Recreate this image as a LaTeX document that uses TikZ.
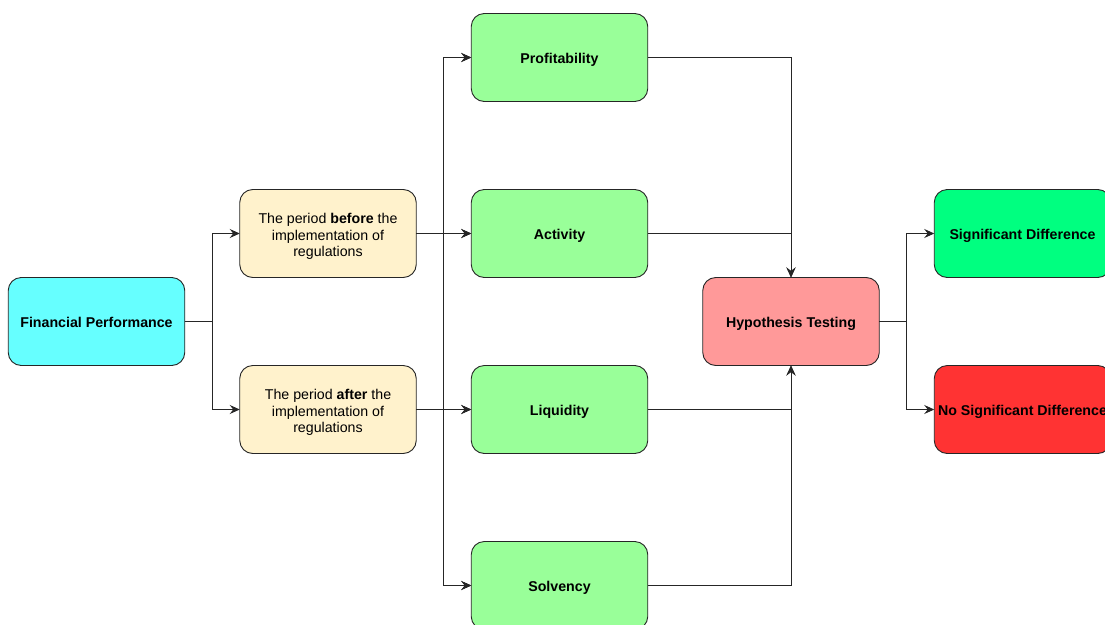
\documentclass[tikz,border=0pt]{standalone}
\usepackage{fontspec}
\setmainfont{Liberation Sans}
\usetikzlibrary{positioning, arrows.meta}

\definecolor{fpcyan}{HTML}{66FFFF}
\definecolor{periodfill}{HTML}{FFF2CC}
\definecolor{ratiogreen}{HTML}{99FF99}
\definecolor{testred}{HTML}{FF9999}
\definecolor{sigfill}{HTML}{00FF80}
\definecolor{nosigfill}{HTML}{FF3333}

\begin{document}
\begin{tikzpicture}[
    node distance=88pt and 55pt,
    box/.style={draw=black!85, line width=0.9pt, rounded corners=13pt, outer sep=0pt,
      minimum width=176.5pt, minimum height=88pt, inner sep=2pt, align=center,
      font=\fontsize{14.2}{16.8}\selectfont},
    oneline/.style={box, text height=12.2pt, text depth=0pt},
    arr/.style={-{Stealth[length=10pt,width=9pt,inset=3.5pt]}, color=black!85, line width=0.9pt},
    elbow/.style={to path={-- ++(#1,0) |- (\tikztotarget)}},
    elbow/.default=27.5pt,
    corner/.style={to path={-| (\tikztotarget)}}
  ]
\useasboundingbox (0,0) rectangle (1105pt,-624pt);

% nodos
\node [oneline, fill=fpcyan] (fp) at (96.5pt,-321.5pt) {\textbf{Financial Performance}};
\node [box, fill=periodfill] (before) [above right=0pt and 55pt of fp] {\mbox{}\\[-0.5pt]The period \textbf{before} the\\implementation of\\regulations};
\node [box, fill=periodfill] (after) [below=88pt of before] {\mbox{}\\[-0.5pt]The period \textbf{after} the\\implementation of\\regulations};
\node [oneline, fill=ratiogreen] (act) [right=55pt of before] {\textbf{Activity}};
\node [oneline, fill=ratiogreen] (prof) [above=88pt of act] {\textbf{Profitability}};
\node [oneline, fill=ratiogreen] (liq) [below=88pt of act] {\textbf{Liquidity}};
\node [oneline, fill=ratiogreen] (solv) [below=88pt of liq] {\textbf{Solvency}};
\node [oneline, fill=testred] (ht) [below right=0pt and 55pt of act] {\textbf{Hypothesis Testing}};
\node [oneline, fill=sigfill] (sd) [above right=0pt and 55pt of ht] {\textbf{Significant Difference}};
\node [oneline, fill=nosigfill] (nsd) [below right=0pt and 55pt of ht] {\textbf{No Significant Difference}};

% conexiones
\path[arr]
  (fp.east) edge [elbow] (before.west)
            edge [elbow] (after.west)
  (before.east) edge [elbow] (prof.west)
                edge (act.west)
                edge [elbow] (liq.west)
                edge [elbow] (solv.west)
  (after.east) edge [elbow] (prof.west)
               edge [elbow] (act.west)
               edge (liq.west)
               edge [elbow] (solv.west)
  (prof.east) edge [corner] (ht.north)
  (act.east) edge [corner] (ht.north)
  (liq.east) edge [corner] (ht.south)
  (solv.east) edge [corner] (ht.south)
  (ht.east) edge [elbow] (sd.west)
            edge [elbow] (nsd.west);
\end{tikzpicture}
\end{document}
